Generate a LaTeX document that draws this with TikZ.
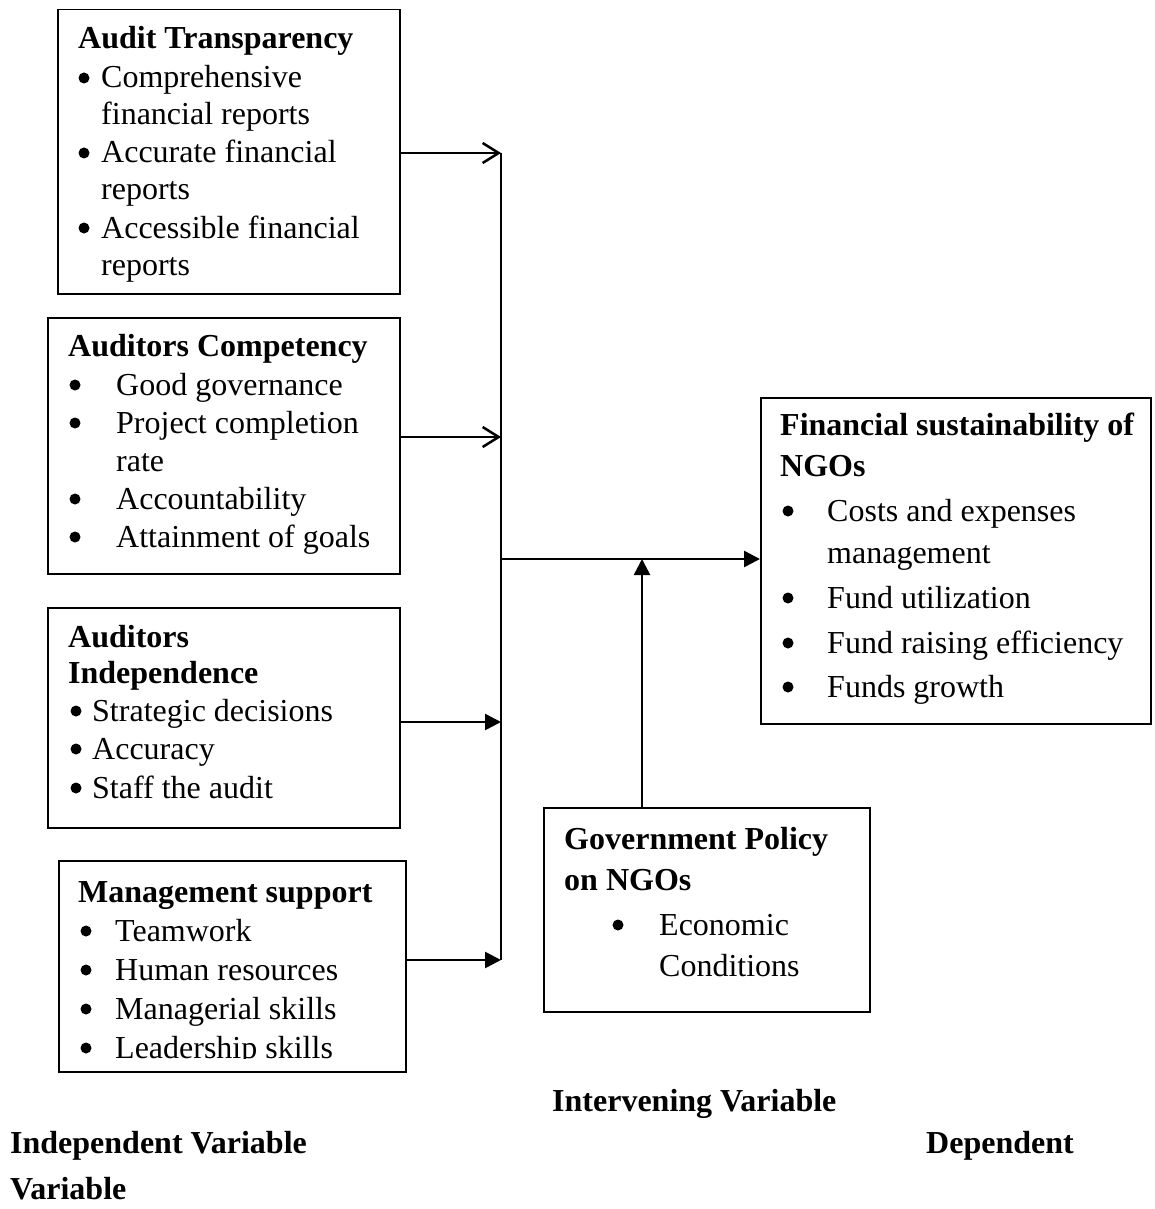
\documentclass[tikz,border=0pt]{standalone}
\usepackage{fontspec}
\setmainfont{Liberation Serif}
\usetikzlibrary{arrows.meta}

\begin{document}
\begin{tikzpicture}
[x=1pt, y=-1pt, font=\fontsize{32}{38}\selectfont,
box/.style={rectangle, draw, line width=1.5pt, anchor=north west, inner sep=0pt},
txt/.style={anchor=base west, inner sep=0pt},
ttl/.style={anchor=base west, inner sep=0pt, font=\fontsize{32}{38}\selectfont\bfseries},
bul/.style={circle, fill, inner sep=0pt, minimum size=11pt, yshift=10pt},
link/.style={line width=2.5pt},
arrO/.style={line width=2.5pt, -{Straight Barb[length=16pt,width=20pt]}},
arrF/.style={line width=2.5pt, -{Triangle[length=16pt,width=16pt]}}]

\useasboundingbox (0,0) rectangle (1154,1209);

% boxes
\node[box, minimum width=342pt, minimum height=284pt] (audit) at (57,9) {};
\node[box, minimum width=352pt, minimum height=256pt] (comp) at (47,317) {};
\node[box, minimum width=352pt, minimum height=220pt] (indep) at (47,607) {};
\node[box, minimum width=347pt, minimum height=211pt] (mgmt) at (58,860) {};
\node[box, minimum width=390pt, minimum height=326pt] (dep) at (760,397) {};
\node[box, minimum width=326pt, minimum height=204pt] (gov) at (543,807) {};

% audit transparency
\node[ttl] (audit-t) at (78,49) {Audit Transparency};
\node[bul] (audit-b1) at (84,88) {};
\node[txt] (audit-i1) at (101,88) {Comprehensive};
\node[txt] (audit-i1b) at (101,125) {financial reports};
\node[bul] (audit-b2) at (84,163) {};
\node[txt] (audit-i2) at (101,163) {Accurate financial};
\node[txt] (audit-i2b) at (101,200) {reports};
\node[bul] (audit-b3) at (84,238) {};
\node[txt] (audit-i3) at (101,238) {Accessible financial};
\node[txt] (audit-i3b) at (101,275) {reports};

% auditors competency
\node[ttl] (comp-t) at (68,356) {Auditors Competency};
\node[bul] (comp-b1) at (75,395) {};
\node[txt] (comp-i1) at (116,395) {Good governance};
\node[bul] (comp-b2) at (75,433) {};
\node[txt] (comp-i2) at (116,433) {Project completion};
\node[txt] (comp-i2b) at (116,471) {rate};
\node[bul] (comp-b3) at (75,509) {};
\node[txt] (comp-i3) at (116,509) {Accountability};
\node[bul] (comp-b4) at (75,547) {};
\node[txt] (comp-i4) at (116,547) {Attainment of goals};

% auditors independence
\node[ttl] (indep-t) at (68,647) {Auditors};
\node[ttl] (indep-tb) at (68,683) {Independence};
\node[bul] (indep-b1) at (76,721) {};
\node[txt] (indep-i1) at (92,721) {Strategic decisions};
\node[bul] (indep-b2) at (76,759) {};
\node[txt] (indep-i2) at (92,759) {Accuracy};
\node[bul] (indep-b3) at (76,798) {};
\node[txt] (indep-i3) at (92,798) {Staff the audit};

% management support
\begin{scope}
\clip (58,860) rectangle (405,1058);
\node[ttl] (mgmt-t) at (78,902) {Management support};
\node[bul] (mgmt-b1) at (86,941) {};
\node[txt] (mgmt-i1) at (115,941) {Teamwork};
\node[bul] (mgmt-b2) at (86,980) {};
\node[txt] (mgmt-i2) at (115,980) {Human resources};
\node[bul] (mgmt-b3) at (86,1019) {};
\node[txt] (mgmt-i3) at (115,1019) {Managerial skills};
\node[bul] (mgmt-b4) at (86,1058) {};
\node[txt] (mgmt-i4) at (115,1058) {Leadership skills};
\end{scope}

% financial sustainability
\node[ttl] (dep-t) at (780,435) {Financial sustainability of};
\node[ttl] (dep-tb) at (780,476) {NGOs};
\node[bul] (dep-b1) at (788,521) {};
\node[txt] (dep-i1) at (827,521) {Costs and expenses};
\node[txt] (dep-i1b) at (827,563) {management};
\node[bul] (dep-b2) at (788,608) {};
\node[txt] (dep-i2) at (827,608) {Fund utilization};
\node[bul] (dep-b3) at (788,653) {};
\node[txt] (dep-i3) at (827,653) {Fund raising efficiency};
\node[bul] (dep-b4) at (788,697) {};
\node[txt] (dep-i4) at (827,697) {Funds growth};

% government policy
\node[ttl] (gov-t) at (564,849) {Government Policy};
\node[ttl] (gov-tb) at (564,890) {on NGOs};
\node[bul] (gov-b1) at (618,935) {};
\node[txt] (gov-i1) at (659,935) {Economic};
\node[txt] (gov-i1b) at (659,976) {Conditions};

% connectors
\coordinate (b1) at (501,153);
\coordinate (b2) at (501,437);
\coordinate (b3) at (501,722);
\coordinate (b4) at (501,960);
\coordinate (hub) at (501,559);
\coordinate (up) at (642,559);

\draw[link] (b1) -- (b4);
\draw[arrO] (audit.east |- b1) -- (b1);
\draw[arrO] (comp.east |- b2) -- (b2);
\draw[arrF] (indep.east |- b3) -- (b3);
\draw[arrF] (mgmt.east |- b4) -- (b4);
\draw[arrF] (hub) -- (dep.west |- hub);
\draw[arrF] (gov.north -| up) -- (up);

% variable labels
\node[ttl] (intervening) at (552,1111) {Intervening Variable};
\node[ttl] (independent) at (10,1153) {Independent Variable};
\node[ttl] (dependent) at (926,1153) {Dependent};
\node[ttl] (variable) at (10,1199) {Variable};
\end{tikzpicture}
\end{document}
